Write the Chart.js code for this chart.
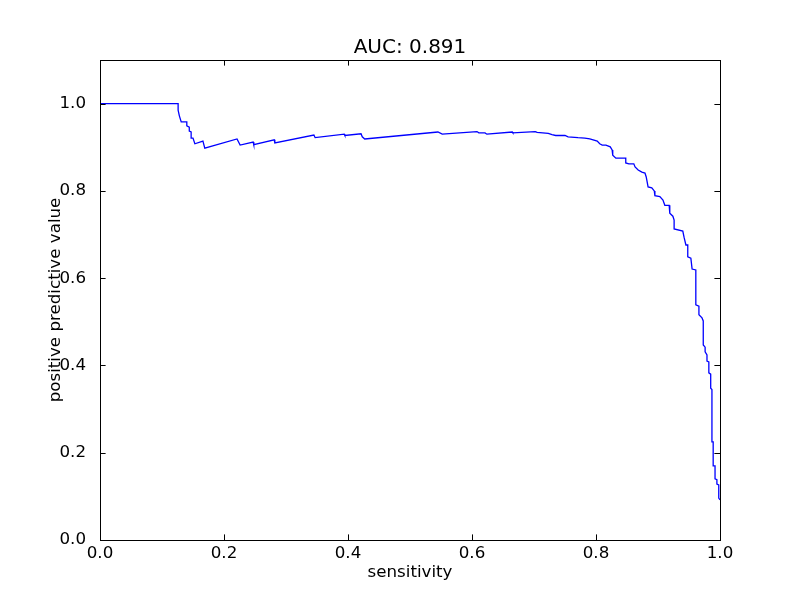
<!DOCTYPE html>
<html>
<head>
<meta charset="utf-8">
<script src="https://cdn.jsdelivr.net/npm/chart.js@4/dist/chart.umd.min.js"></script>
<style>
  html, body { margin: 0; padding: 0; background: #fff; }
  canvas { display: block; }
</style>
</head>
<body>
<canvas id="chart" width="800" height="600"></canvas>
<script>
// precision-recall curve
const sensitivity = [
  0, 0.126, 0.126, 0.128, 0.131, 0.140, 0.140, 0.144, 0.144, 0.147,
  0.147, 0.150, 0.153, 0.166, 0.169, 0.221, 0.226, 0.247, 0.248, 0.281,
  0.282, 0.345, 0.347, 0.394, 0.395, 0.421, 0.423, 0.427, 0.545, 0.552,
  0.608, 0.611, 0.621, 0.624, 0.665, 0.666, 0.702, 0.705, 0.723, 0.729,
  0.735, 0.750, 0.755, 0.771, 0.782, 0.790, 0.802, 0.806, 0.810, 0.816,
  0.823, 0.826, 0.827, 0.832, 0.848, 0.848, 0.853, 0.861, 0.863, 0.868,
  0.874, 0.879, 0.881, 0.884, 0.890, 0.894, 0.895, 0.903, 0.908, 0.911,
  0.918, 0.919, 0.924, 0.926, 0.926, 0.940, 0.942, 0.945, 0.948, 0.948,
  0.953, 0.955, 0.961, 0.961, 0.966, 0.966, 0.971, 0.973, 0.973, 0.976,
  0.976, 0.979, 0.979, 0.982, 0.982, 0.985, 0.985, 0.987, 0.987, 0.989,
  0.989, 0.992, 0.992, 0.995, 0.995, 0.998, 0.998, 1.0
];
const ppv = [
  1.0, 1.0, 0.985, 0.972, 0.958, 0.958, 0.949, 0.946, 0.937, 0.935,
  0.921, 0.921, 0.908, 0.914, 0.898, 0.919, 0.905, 0.912, 0.906, 0.917,
  0.910, 0.928, 0.922, 0.930, 0.927, 0.931, 0.924, 0.919, 0.935, 0.930,
  0.936, 0.933, 0.933, 0.930, 0.935, 0.933, 0.936, 0.934, 0.932, 0.929,
  0.927, 0.927, 0.924, 0.922, 0.921, 0.919, 0.914, 0.908, 0.905, 0.905,
  0.901, 0.894, 0.882, 0.875, 0.875, 0.864, 0.862, 0.862, 0.855, 0.848,
  0.843, 0.841, 0.832, 0.809, 0.807, 0.800, 0.789, 0.787, 0.779, 0.767,
  0.767, 0.749, 0.742, 0.733, 0.713, 0.708, 0.694, 0.676, 0.676, 0.649,
  0.646, 0.621, 0.619, 0.539, 0.536, 0.516, 0.509, 0.502, 0.447, 0.442,
  0.431, 0.424, 0.410, 0.408, 0.383, 0.380, 0.348, 0.345, 0.225, 0.225,
  0.170, 0.170, 0.140, 0.138, 0.128, 0.126, 0.096, 0.092
];
const xTicks = [0, 0.2, 0.4, 0.6, 0.8, 1.0];
const yTicks = [0, 0.2, 0.4, 0.6, 0.8, 1.0];
const titleText = 'AUC: 0.891';

const FONT = 'DejaVu Sans';

// matplotlib style frame: box on all four sides, ticks pointing inward
const framePlugin = {
  id: 'frame',
  afterDatasetsDraw(chart) {
    const { ctx, chartArea: a, scales } = chart;
    const tick = 5.6;
    ctx.save();
    ctx.strokeStyle = '#000';
    ctx.lineWidth = 1;
    ctx.beginPath();
    xTicks.forEach(v => {
      const px = Math.round(scales.x.getPixelForValue(v)) + 0.5;
      ctx.moveTo(px, a.bottom); ctx.lineTo(px, a.bottom - tick);
      ctx.moveTo(px, a.top); ctx.lineTo(px, a.top + tick);
    });
    yTicks.forEach(v => {
      const py = Math.round(scales.y.getPixelForValue(v)) + 0.5;
      ctx.moveTo(a.left, py); ctx.lineTo(a.left + tick, py);
      ctx.moveTo(a.right, py); ctx.lineTo(a.right - tick, py);
    });
    ctx.stroke();
    ctx.strokeRect(Math.round(a.left) + 0.5, Math.round(a.top) + 0.5,
      Math.round(a.right - a.left), Math.round(a.bottom - a.top));
    // title
    ctx.fillStyle = '#000';
    ctx.font = '20px "' + FONT + '"';
    ctx.textAlign = 'center';
    ctx.textBaseline = 'alphabetic';
    ctx.fillText(titleText, (a.left + a.right) / 2, a.top - 7);
    ctx.restore();
  }
};

const ctx = document.getElementById('chart').getContext('2d');
new Chart(ctx, {
  type: 'line',
  data: {
    datasets: [{
      data: sensitivity.map((x, i) => ({ x: x, y: ppv[i] })),
      borderColor: '#0000ff',
      borderWidth: 1.3,
      pointRadius: 0,
      tension: 0,
      fill: false
    }]
  },
  options: {
    responsive: false,
    animation: false,
    layout: { padding: { top: 60, right: 80, left: 0, bottom: 0 } },
    plugins: {
      legend: { display: false },
      tooltip: { enabled: false },
      title: { display: false }
    },
    scales: {
      x: {
        type: 'linear',
        min: 0,
        max: 1,
        grid: { display: false },
        border: { display: false },
        afterBuildTicks: s => { s.ticks = xTicks.map(v => ({ value: v })); },
        afterFit: s => { s.height = 60; },
        ticks: {
          color: '#000',
          padding: -4,
          maxRotation: 0,
          font: { family: FONT, size: 16.7 },
          callback: v => Number(v).toFixed(1)
        },
        title: {
          display: true,
          text: 'sensitivity',
          color: '#000',
          font: { family: FONT, size: 16.7 },
          padding: { top: 0, bottom: 17 }
        }
      },
      y: {
        type: 'linear',
        min: 0,
        max: 1.1,
        grid: { display: false },
        border: { display: false },
        afterBuildTicks: s => { s.ticks = yTicks.map(v => ({ value: v })); },
        afterFit: s => { s.width = 100; },
        ticks: {
          color: '#000',
          padding: 6,
          font: { family: FONT, size: 16.7 },
          callback: v => Number(v).toFixed(1)
        },
        title: {
          display: true,
          text: 'positive predictive value',
          color: '#000',
          font: { family: FONT, size: 16.7 },
          padding: { top: 46, bottom: 0 }
        }
      }
    }
  },
  plugins: [framePlugin]
});
</script>
</body>
</html>
